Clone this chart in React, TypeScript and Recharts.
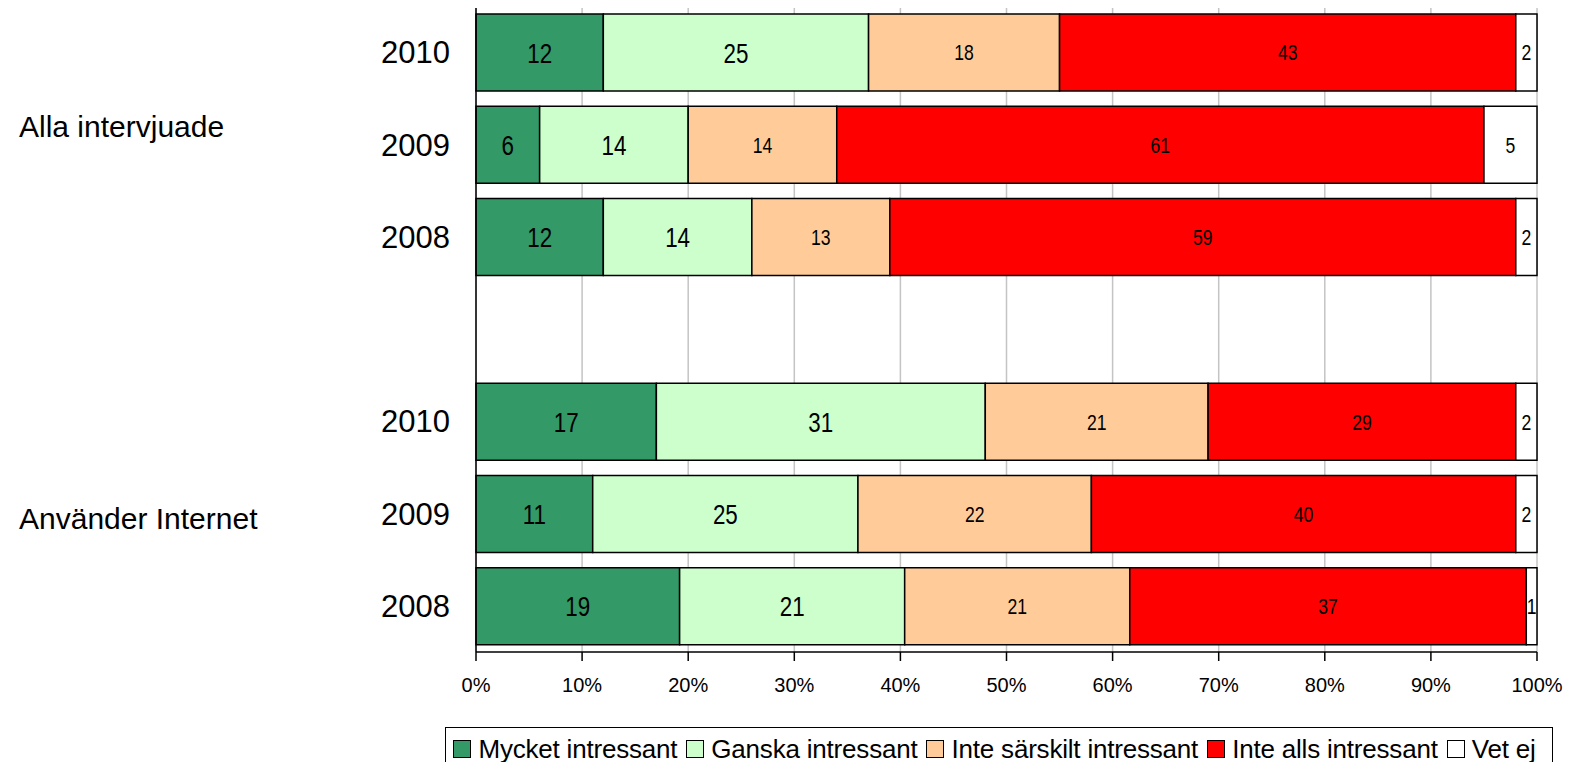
import { BarChart, Bar, XAxis, YAxis, CartesianGrid, LabelList } from 'recharts';

const years = ['2010', '2009', '2008', '', '2010', '2009', '2008'];
const mycket = [12, 6, 12, null, 17, 11, 19];
const ganska = [25, 14, 14, null, 31, 25, 21];
const inteSarskilt = [18, 14, 13, null, 21, 22, 21];
const inteAlls = [43, 61, 59, null, 29, 40, 37];
const vetEj = [2, 5, 2, null, 2, 2, 1];

const xTicks = [0, 0.1, 0.2, 0.3, 0.4, 0.5, 0.6, 0.7, 0.8, 0.9, 1];

// group captions sit beside the middle year of each block
const groupLabels = [
  { row: 1, text: 'Alla intervjuade', dy: -7 },
  { row: 5, text: 'Använder Internet', dy: 15 },
];

const series = [
  { key: 'mycket', name: 'Mycket intressant', color: '#339966', big: true },
  { key: 'ganska', name: 'Ganska intressant', color: '#CCFFCC', big: true },
  { key: 'inteSarskilt', name: 'Inte särskilt intressant', color: '#FFCC99', big: false },
  { key: 'inteAlls', name: 'Inte alls intressant', color: '#FF0000', big: false },
  { key: 'vetEj', name: 'Vet ej', color: '#FFFFFF', big: false },
];

const data = years.map((year, i) => ({
  id: `row${i}`,
  year,
  mycket: mycket[i],
  ganska: ganska[i],
  inteSarskilt: inteSarskilt[i],
  inteAlls: inteAlls[i],
  vetEj: vetEj[i],
}));

const font = 'Arial, "Liberation Sans", Helvetica, sans-serif';

function YearTick(props: any) {
  const { x, y, payload, index } = props;
  const group = groupLabels.find((g) => g.row === index);
  return (
    <g>
      <text x={x - 18} y={y} dy="0.36em" textAnchor="end" fontSize={31} fontFamily={font} fill="#000">
        {data[index]?.year ?? payload.value}
      </text>
      {group && (
        <text x={19} y={y + group.dy} fontSize={30} fontFamily={font} fill="#000">
          {group.text}
        </text>
      )}
    </g>
  );
}

// the original labels are a squeezed Helvetica, so scale the glyphs horizontally
const makeLabel = (size: number) => (props: any) => {
  const { x, y, width, height, value } = props;
  if (value == null) return null;
  const cx = x + width / 2;
  const cy = y + height / 2;
  return (
    <text
      transform={`translate(${cx},${cy}) scale(0.8,1)`}
      textAnchor="middle"
      dy="0.36em"
      fontSize={size}
      fontFamily={font}
      fill="#000"
    >
      {value}
    </text>
  );
};

export default function App() {
  return (
    <div style={{ position: 'relative', margin: -8, width: 1575, height: 770, overflow: 'hidden', background: '#fff' }}>
      <BarChart
        width={1575}
        height={770}
        data={data}
        layout="vertical"
        stackOffset="expand"
        margin={{ top: 6, right: 38, left: 0, bottom: 88 }}
      >
        <CartesianGrid horizontal={false} stroke="#c4c4c4" strokeWidth={1.5} />
        <XAxis
          type="number"
          domain={[0, 1]}
          ticks={xTicks}
          height={30}
          tickFormatter={(v) => `${Math.round(v * 100)}%`}
          axisLine={{ stroke: '#000', strokeWidth: 1.5 }}
          tickLine={{ stroke: '#000', strokeWidth: 1.5 }}
          tickSize={9}
          tickMargin={17}
          tick={{ fontSize: 20, fill: '#000', fontFamily: font }}
        />
        <YAxis
          type="category"
          dataKey="id"
          width={476}
          axisLine={{ stroke: '#000', strokeWidth: 1.5 }}
          tickLine={false}
          tick={<YearTick />}
          interval={0}
        />
        {series.map((s) => (
          <Bar
            key={s.key}
            dataKey={s.key}
            name={s.name}
            stackId="a"
            fill={s.color}
            stroke="#000"
            strokeWidth={1.5}
            barSize={77}
            isAnimationActive={false}
          >
            <LabelList dataKey={s.key} content={makeLabel(s.big ? 28 : 22)} />
          </Bar>
        ))}
      </BarChart>
      <div
        style={{
          position: 'absolute',
          left: 445,
          top: 727,
          width: 1108,
          height: 50,
          boxSizing: 'border-box',
          border: '1.5px solid #000',
          display: 'flex',
          alignItems: 'center',
          justifyContent: 'center',
          paddingBottom: 6,
          fontFamily: font,
          fontSize: 26,
          color: '#000',
        }}
      >
        {series.map((s) => (
          <div key={s.key} style={{ display: 'flex', alignItems: 'center', marginRight: 9 }}>
            <span
              style={{
                display: 'inline-block',
                width: 16,
                height: 16,
                background: s.color,
                border: '1.5px solid #000',
                marginRight: 7,
              }}
            />
            <span style={{ whiteSpace: 'nowrap', letterSpacing: -0.2 }}>{s.name}</span>
          </div>
        ))}
      </div>
    </div>
  );
}
